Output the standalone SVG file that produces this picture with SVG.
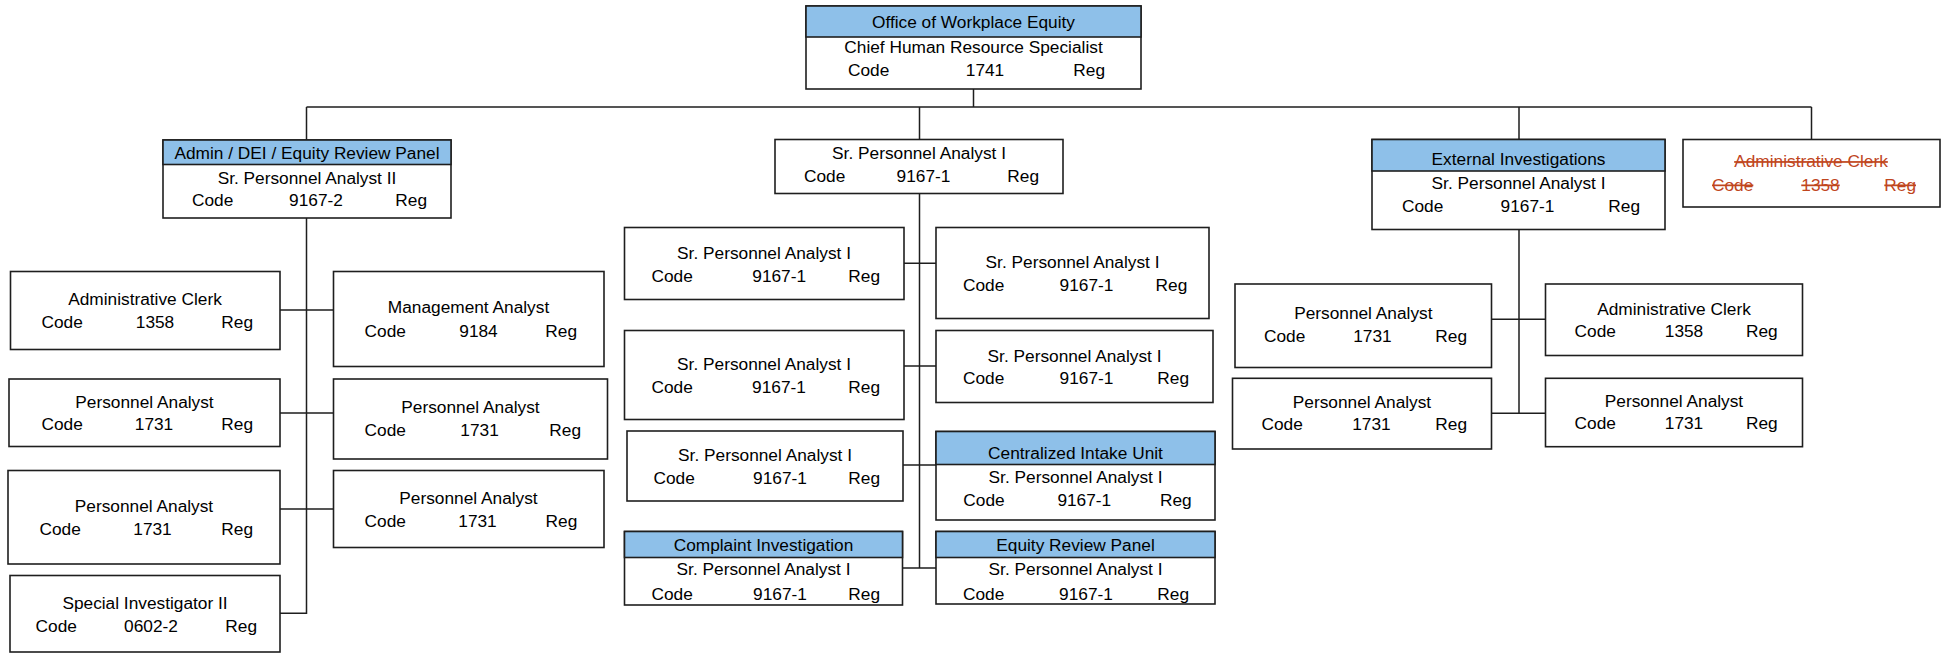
<svg xmlns="http://www.w3.org/2000/svg" width="1944" height="654" viewBox="0 0 1944 654">
<style>
.b{fill:#fff;stroke:#1e1e1e;stroke-width:1.6}
.h{fill:#8EC0E9;stroke:#1e1e1e;stroke-width:1.6}
text{font-family:"Liberation Sans",Arial,sans-serif;font-size:17.3px;fill:#000}
.m{text-anchor:middle}
.e{text-anchor:end}
.s{fill:#C0461E;text-decoration:line-through}
.c{fill:none;stroke:#1e1e1e;stroke-width:1.5}
</style>
<rect width="1944" height="654" fill="#fff"/>
<g id="connectors" class="c">
<path d="M973.5 89V107M306.5 107H1811.5M306.5 107V140M919.5 107V139.5M1519 107V139.5M1811.5 107V139.5"/>
<path d="M306.5 218V613.3H280M280 310H333.5M280 413H333.5M280 509H333.5"/>
<path d="M919.5 193.5V568M904 263.3H936M904 366H936M903 465H936M902.6 568H936"/>
<path d="M1519 229.5V413.3M1491.5 319.3H1545.5M1491.5 413.3H1545.5"/>
</g>
<g id="n-top">
<rect class="b" x="806" y="6" width="335" height="83"/>
<rect class="h" x="806" y="6" width="335" height="31"/>
<text class="m" x="973.5" y="28">Office of Workplace Equity</text>
<text class="m" x="973.5" y="53">Chief Human Resource Specialist</text>
<text x="848" y="75.5">Code</text><text class="m" x="985" y="75.5">1741</text><text class="e" x="1105" y="75.5">Reg</text>
</g>
<g id="n-admin">
<rect class="b" x="163" y="140" width="288" height="78"/>
<rect class="h" x="163" y="140" width="288" height="24.5"/>
<text class="m" x="307" y="158.5">Admin / DEI / Equity Review Panel</text>
<text class="m" x="307" y="183.5">Sr. Personnel Analyst II</text>
<text x="192" y="205.5">Code</text><text class="m" x="316" y="205.5">9167-2</text><text class="e" x="427" y="205.5">Reg</text>
</g>
<g id="n-mid">
<rect class="b" x="775" y="139.5" width="288" height="54"/>
<text class="m" x="919" y="159">Sr. Personnel Analyst I</text>
<text x="804" y="181.5">Code</text><text class="m" x="923.5" y="181.5">9167-1</text><text class="e" x="1039" y="181.5">Reg</text>
</g>
<g id="n-ext">
<rect class="b" x="1372" y="139.5" width="293" height="90"/>
<rect class="h" x="1372" y="139.5" width="293" height="31.5"/>
<text class="m" x="1518.5" y="164.5">External Investigations</text>
<text class="m" x="1518.5" y="189.3">Sr. Personnel Analyst I</text>
<text x="1402" y="211.5">Code</text><text class="m" x="1527.5" y="211.5">9167-1</text><text class="e" x="1640" y="211.5">Reg</text>
</g>
<g id="n-clerk-x">
<rect class="b" x="1683" y="139.5" width="257" height="67.5"/>
<text class="m s" x="1811" y="167.3">Administrative Clerk</text>
<text class="s" x="1712" y="190.7">Code</text><text class="m s" x="1820.5" y="190.7">1358</text><text class="e s" x="1916" y="190.7">Reg</text>
</g>
<g id="n-l-clerk">
<rect class="b" x="10.5" y="271.5" width="269.5" height="78"/>
<text class="m" x="145" y="305">Administrative Clerk</text>
<text x="41.5" y="328.3">Code</text><text class="m" x="155" y="328.3">1358</text><text class="e" x="253" y="328.3">Reg</text>
</g>
<g id="n-l-mgmt">
<rect class="b" x="333.5" y="271.5" width="270.5" height="95"/>
<text class="m" x="468.5" y="313.3">Management Analyst</text>
<text x="364.6" y="336.7">Code</text><text class="m" x="478.5" y="336.7">9184</text><text class="e" x="577" y="336.7">Reg</text>
</g>
<g id="n-l-pa1">
<rect class="b" x="9" y="379" width="271" height="67.5"/>
<text class="m" x="144.5" y="408">Personnel Analyst</text>
<text x="41.5" y="429.8">Code</text><text class="m" x="154" y="429.8">1731</text><text class="e" x="253" y="429.8">Reg</text>
</g>
<g id="n-l-pa2">
<rect class="b" x="333.5" y="379" width="274" height="80"/>
<text class="m" x="470.5" y="413">Personnel Analyst</text>
<text x="364.6" y="436">Code</text><text class="m" x="479.6" y="436">1731</text><text class="e" x="581" y="436">Reg</text>
</g>
<g id="n-l-pa3">
<rect class="b" x="8" y="470.5" width="272" height="93.5"/>
<text class="m" x="144" y="512">Personnel Analyst</text>
<text x="39.5" y="535">Code</text><text class="m" x="152.5" y="535">1731</text><text class="e" x="253" y="535">Reg</text>
</g>
<g id="n-l-pa4">
<rect class="b" x="333.5" y="470.5" width="270.5" height="77"/>
<text class="m" x="468.5" y="504">Personnel Analyst</text>
<text x="364.6" y="527.3">Code</text><text class="m" x="477.5" y="527.3">1731</text><text class="e" x="577.3" y="527.3">Reg</text>
</g>
<g id="n-l-si">
<rect class="b" x="10" y="575.5" width="270" height="76.5"/>
<text class="m" x="145" y="608.5">Special Investigator II</text>
<text x="35.6" y="631.7">Code</text><text class="m" x="151" y="631.7">0602-2</text><text class="e" x="257" y="631.7">Reg</text>
</g>
<g id="n-m-l1">
<rect class="b" x="624.5" y="227.5" width="279.5" height="72"/>
<text class="m" x="764" y="259.3">Sr. Personnel Analyst I</text>
<text x="651.5" y="282.3">Code</text><text class="m" x="779.2" y="282.3">9167-1</text><text class="e" x="880" y="282.3">Reg</text>
</g>
<g id="n-m-r1">
<rect class="b" x="936" y="227.5" width="273" height="91"/>
<text class="m" x="1072.5" y="268.3">Sr. Personnel Analyst I</text>
<text x="963" y="291">Code</text><text class="m" x="1086.5" y="291">9167-1</text><text class="e" x="1187.3" y="291">Reg</text>
</g>
<g id="n-m-l2">
<rect class="b" x="624.5" y="330.5" width="279.5" height="89"/>
<text class="m" x="764" y="370">Sr. Personnel Analyst I</text>
<text x="651.5" y="392.7">Code</text><text class="m" x="779" y="392.7">9167-1</text><text class="e" x="880" y="392.7">Reg</text>
</g>
<g id="n-m-r2">
<rect class="b" x="936" y="330.5" width="277" height="72"/>
<text class="m" x="1074.5" y="362">Sr. Personnel Analyst I</text>
<text x="963" y="384">Code</text><text class="m" x="1086.5" y="384">9167-1</text><text class="e" x="1189" y="384">Reg</text>
</g>
<g id="n-m-l3">
<rect class="b" x="627" y="431" width="276" height="70"/>
<text class="m" x="765" y="461">Sr. Personnel Analyst I</text>
<text x="653.5" y="484">Code</text><text class="m" x="780" y="484">9167-1</text><text class="e" x="880" y="484">Reg</text>
</g>
<g id="n-m-ciu">
<rect class="b" x="936" y="431.5" width="279" height="88.5"/>
<rect class="h" x="936" y="431.5" width="279" height="33"/>
<text class="m" x="1075.5" y="459">Centralized Intake Unit</text>
<text class="m" x="1075.5" y="483">Sr. Personnel Analyst I</text>
<text x="963.3" y="505.5">Code</text><text class="m" x="1084.3" y="505.5">9167-1</text><text class="e" x="1191.7" y="505.5">Reg</text>
</g>
<g id="n-m-ci">
<rect class="b" x="624.5" y="531.5" width="278" height="73.5"/>
<rect class="h" x="624.5" y="531.5" width="278" height="26"/>
<text class="m" x="763.5" y="550.7">Complaint Investigation</text>
<text class="m" x="763.5" y="575">Sr. Personnel Analyst I</text>
<text x="651.5" y="599.5">Code</text><text class="m" x="780" y="599.5">9167-1</text><text class="e" x="880" y="599.5">Reg</text>
</g>
<g id="n-m-erp">
<rect class="b" x="936" y="531.5" width="279" height="72.5"/>
<rect class="h" x="936" y="531.5" width="279" height="26"/>
<text class="m" x="1075.5" y="550.7">Equity Review Panel</text>
<text class="m" x="1075.5" y="575">Sr. Personnel Analyst I</text>
<text x="963" y="599.5">Code</text><text class="m" x="1086" y="599.5">9167-1</text><text class="e" x="1189" y="599.5">Reg</text>
</g>
<g id="n-r-pa1">
<rect class="b" x="1235" y="284" width="256.5" height="83.5"/>
<text class="m" x="1363.3" y="319.3">Personnel Analyst</text>
<text x="1264" y="341.7">Code</text><text class="m" x="1372.4" y="341.7">1731</text><text class="e" x="1467" y="341.7">Reg</text>
</g>
<g id="n-r-clerk">
<rect class="b" x="1545.5" y="284" width="257" height="71.5"/>
<text class="m" x="1674" y="315">Administrative Clerk</text>
<text x="1574.6" y="336.7">Code</text><text class="m" x="1684" y="336.7">1358</text><text class="e" x="1777.7" y="336.7">Reg</text>
</g>
<g id="n-r-pa2">
<rect class="b" x="1232.5" y="378.3" width="259" height="70.7"/>
<text class="m" x="1362" y="407.7">Personnel Analyst</text>
<text x="1261.5" y="430">Code</text><text class="m" x="1371.4" y="430">1731</text><text class="e" x="1467" y="430">Reg</text>
</g>
<g id="n-r-pa3">
<rect class="b" x="1545.5" y="378.3" width="257" height="68.4"/>
<text class="m" x="1674" y="407.3">Personnel Analyst</text>
<text x="1574.6" y="429">Code</text><text class="m" x="1684" y="429">1731</text><text class="e" x="1777.7" y="429">Reg</text>
</g>
</svg>
